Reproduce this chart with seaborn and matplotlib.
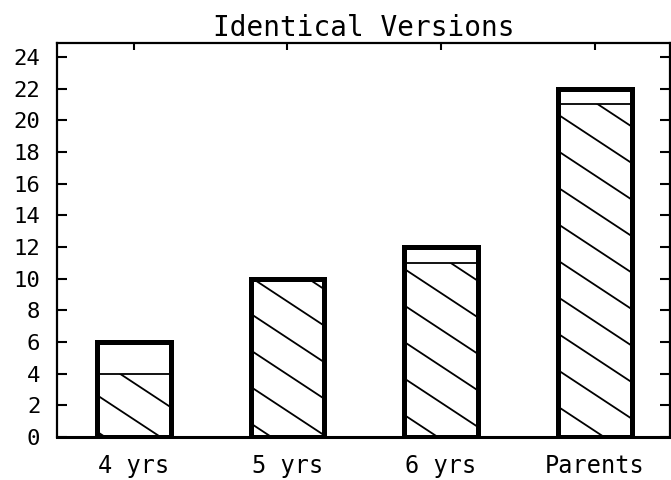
import numpy as np
import pandas as pd
import matplotlib
matplotlib.use("Agg")
import matplotlib.pyplot as plt
import seaborn as sns

# Chart data
groups = ["4 yrs", "5 yrs", "6 yrs", "Parents"]
identical = [4, 10, 11, 21]      # hatched part of each bar
totals = [6, 10, 12, 22]         # full bar height
y_ticks = list(range(0, 25, 2))

df = pd.DataFrame({"group": groups, "identical": identical, "total": totals})

sns.set_theme(style="white")
plt.rcParams["font.family"] = ["DejaVu Sans Mono", "DejaVu Sans"]

fig = plt.figure(figsize=(6.71, 4.80), dpi=100)
ax = fig.add_axes([0.085, 0.0896, 0.9135, 0.8215])

BAR_W = 0.48

# hatched lower part, thin outline
sns.barplot(data=df, x="group", y="identical", color="white", width=BAR_W,
            edgecolor="black", linewidth=1.3, ax=ax, zorder=2)
hatched = list(ax.patches)

ax.set_xlim(-0.5, 3.49)
ax.set_ylim(0, 24.9)

# diagonal hatching (shallower than 45 degrees), clipped to each bar
slope = -6.39      # dy/dx in data units
step = 2.306       # vertical spacing between hatch lines
x_ref, y_ref = -0.241, 2.65
for p in hatched:
    x0 = p.get_x()
    x1 = x0 + p.get_width()
    h = p.get_height()
    base = y_ref + slope * (x0 - x_ref)
    kmin = int(np.floor((base - h) / step)) - 2
    kmax = int(np.ceil((base - slope * (x1 - x0)) / step)) + 2
    for k in range(kmin, kmax + 1):
        c = base - step * k
        xs = np.array([x0 - 0.05, x1 + 0.05])
        ys = c + slope * (xs - x0)
        ln, = ax.plot(xs, ys, color="black", lw=1.3, zorder=2.5,
                      solid_capstyle="butt")
        ln.set_clip_path(p)

# full bars: heavy outline on top
sns.barplot(data=df, x="group", y="total", color="white", width=BAR_W,
            edgecolor="black", linewidth=3.6, ax=ax, zorder=3)
for p in ax.patches[len(hatched):]:
    p.set_facecolor("none")

ax.set_xlim(-0.5, 3.49)
ax.set_ylim(0, 24.9)
ax.set_yticks(y_ticks)
ax.set_yticklabels([str(v) for v in y_ticks], fontsize=16)
ax.set_xticks(range(len(groups)))
ax.set_xticklabels(groups, fontsize=17)
ax.set_xlabel("")
ax.set_ylabel("")

ax.tick_params(axis="y", which="both", left=True, right=True, direction="in",
               length=7, width=1.5, color="black", pad=12, labelcolor="black")
ax.tick_params(axis="x", which="both", bottom=False, top=True, direction="in",
               length=5, width=1.5, color="black", pad=12, labelcolor="black")

for s in ax.spines.values():
    s.set_visible(True)
    s.set_color("black")
    s.set_linewidth(1.6)
ax.spines["bottom"].set_linewidth(2.2)

ax.set_title("Identical Versions", fontsize=20, pad=5, color="black")

fig.savefig("out.png", dpi=100, facecolor="white")
